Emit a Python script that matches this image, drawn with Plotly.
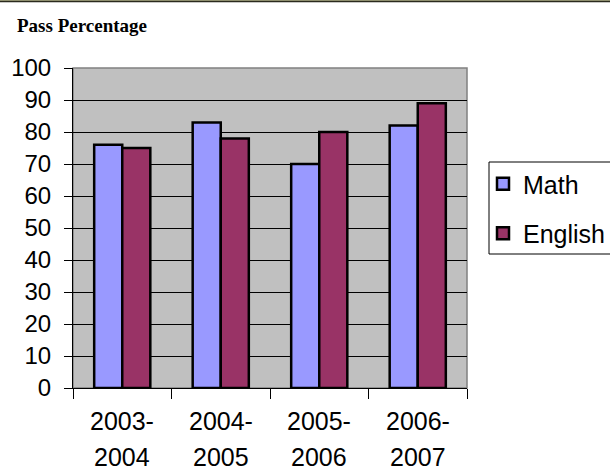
import plotly.graph_objects as go

categories = ["2003-2004", "2004-2005", "2005-2006", "2006-2007"]
math_vals = [76, 83, 70, 82]
english_vals = [75, 78, 80, 89]
y_ticks = [0, 10, 20, 30, 40, 50, 60, 70, 80, 90, 100]

fig = go.Figure()
fig.add_trace(go.Bar(x=categories, y=math_vals, name="Math", legendgroup="a",
                     marker=dict(color="#9999FF", line=dict(color="black", width=2.5))))
fig.add_trace(go.Bar(x=categories, y=english_vals, name="English", legendgroup="b",
                     marker=dict(color="#993366", line=dict(color="black", width=2.5))))

L, R, T, B = 73, 467, 68, 388
W, H = 610, 476
pw, ph = R - L, B - T

def px_x(X):
    return (X - L) / pw

def px_y(Y):
    return (B - Y) / ph

# two-line category labels
for c in categories:
    a, b = c.split("-")
    fig.add_annotation(x=c, xref="x", y=px_y(421), yref="paper", text=a + "-",
                       showarrow=False, yanchor="middle", xanchor="center",
                       font=dict(family="Liberation Sans, Arial", size=25, color="black"))
    fig.add_annotation(x=c, xref="x", y=px_y(457), yref="paper", text=b,
                       showarrow=False, yanchor="middle", xanchor="center",
                       font=dict(family="Liberation Sans, Arial", size=25, color="black"))

fig.add_annotation(x=px_x(15), xref="paper", y=px_y(25), yref="paper",
                   text="<b>Pass Percentage</b>", showarrow=False,
                   xanchor="left", yanchor="middle",
                   font=dict(family="Liberation Serif, Times New Roman", size=19, color="black"))

shapes = [
    # plot area border (gray)
    dict(type="rect", xref="paper", yref="paper", x0=0, x1=1, y0=0, y1=1,
         line=dict(color="#808080", width=1.5), layer="below"),
    # legend box
    dict(type="rect", xref="paper", yref="paper", x0=px_x(489), x1=px_x(640),
         y0=px_y(254), y1=px_y(162), line=dict(color="black", width=1),
         fillcolor="white", layer="below"),
    # top border of the image
    dict(type="line", xref="paper", yref="paper", x0=px_x(-5), x1=px_x(620),
         y0=px_y(0.5), y1=px_y(0.5), line=dict(color="#8f8f6e", width=1.5)),
    dict(type="line", xref="paper", yref="paper", x0=px_x(-5), x1=px_x(620),
         y0=px_y(1.7), y1=px_y(1.7), line=dict(color="#2a2a1e", width=1.2)),
]

fig.update_layout(
    width=W, height=H,
    margin=dict(l=L, r=W - R, t=T, b=H - B, pad=0, autoexpand=False),
    paper_bgcolor="white",
    plot_bgcolor="#C0C0C0",
    barmode="group",
    bargap=0.43,
    bargroupgap=0,
    font=dict(family="Liberation Sans, Arial", color="black"),
    showlegend=True,
    legend=dict(x=px_x(483), y=px_y(161), xanchor="left", yanchor="top",
                bgcolor="rgba(0,0,0,0)", borderwidth=0,
                traceorder="grouped", tracegroupgap=14,
                font=dict(family="Liberation Sans, Arial", size=25, color="black")),
    shapes=shapes,
)

fig.update_xaxes(type="category", showticklabels=False, ticks="outside",
                 tickson="boundaries", ticklen=10, tickcolor="black", tickwidth=1,
                 showline=True, linecolor="black", linewidth=1, showgrid=False,
                 automargin=False)
fig.update_yaxes(range=[0, 100], tickvals=y_ticks, ticks="outside", ticklen=8,
                 tickcolor="black", tickwidth=1, showline=True, linecolor="black",
                 linewidth=1, showgrid=True, gridcolor="black", gridwidth=1,
                 zeroline=False, ticklabelstandoff=8, automargin=False,
                 tickfont=dict(family="Liberation Sans, Arial", size=24, color="black"))

fig.write_html("out.html", config={"displayModeBar": False},
               post_script="document.body.style.margin='0';document.body.style.overflow='hidden';")
